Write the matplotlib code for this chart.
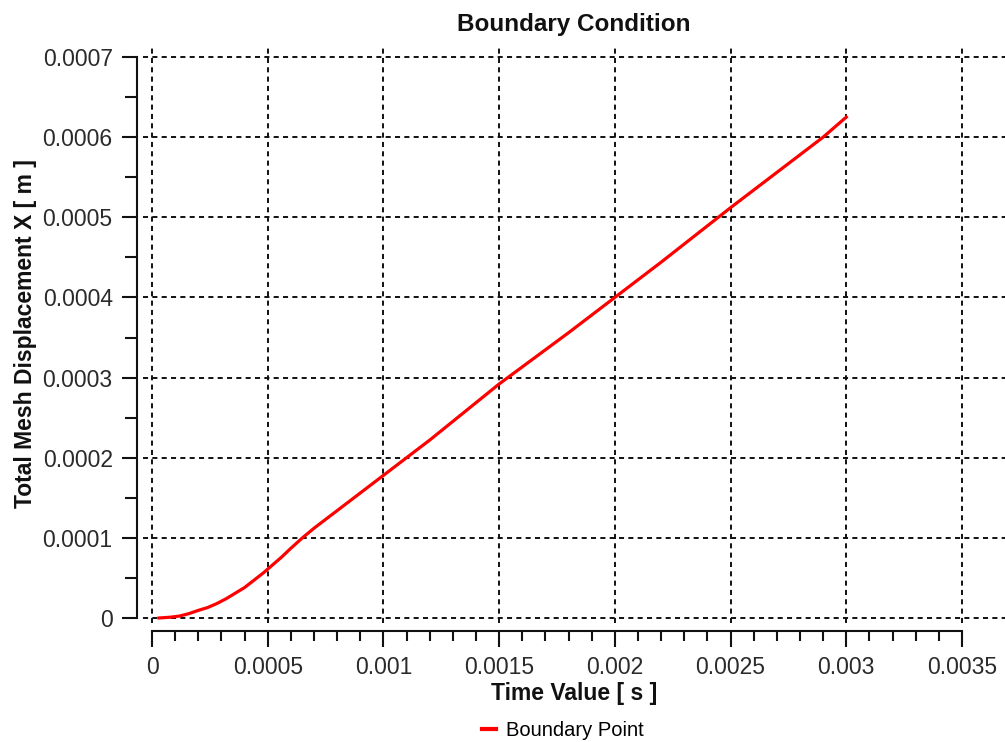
import matplotlib
matplotlib.use("Agg")
import matplotlib.pyplot as plt
from matplotlib.ticker import FixedLocator

plt.rcParams['font.family'] = ['Liberation Sans', 'DejaVu Sans']

# Data
time_s = [0.00003, 0.00008, 0.00012, 0.00016, 0.0002, 0.00024, 0.00028, 0.00032,
          0.00036, 0.0004, 0.00044, 0.00048, 0.00052, 0.00056, 0.0006, 0.00065,
          0.0007, 0.0008, 0.001, 0.0012, 0.0015, 0.0018, 0.002, 0.0022, 0.0025,
          0.0028, 0.0029, 0.003]
disp_m = [0.0, 0.000001, 0.0000025, 0.0000055, 0.0000095, 0.000013, 0.000018, 0.000024,
          0.000031, 0.000038, 0.000047, 0.000056, 0.000066, 0.000076, 0.000087, 0.0001,
          0.000112, 0.000134, 0.000178, 0.000222, 0.000292, 0.000356, 0.0004, 0.000444,
          0.000512, 0.000578, 0.0006, 0.000625]

x_ticks = [0, 0.0005, 0.001, 0.0015, 0.002, 0.0025, 0.003, 0.0035]
x_tick_labels = ["0", "0.0005", "0.001", "0.0015", "0.002", "0.0025", "0.003", "0.0035"]
x_minor_ticks = [i * 0.0001 for i in range(36) if i % 5 != 0]
y_ticks = [0, 0.0001, 0.0002, 0.0003, 0.0004, 0.0005, 0.0006, 0.0007]
y_tick_labels = ["0", "0.0001", "0.0002", "0.0003", "0.0004", "0.0005", "0.0006", "0.0007"]
y_minor_ticks = [0.00005, 0.00015, 0.00025, 0.00035, 0.00045, 0.00055, 0.00065]

title = "Boundary Condition"
xlabel = "Time Value [ s ]"
ylabel = "Total Mesh Displacement X [ m ]"
series_name = "Boundary Point"

W, H = 1005, 742
fig = plt.figure(figsize=(W / 100, H / 100), dpi=100)
ax_l, ax_r, ax_t, ax_b = 143, 1005, 45, 623
ax = fig.add_axes([ax_l / W, 1 - ax_b / H, (ax_r - ax_l) / W, (ax_b - ax_t) / H])

x0_px, x35_px = 152, 962
y0_px, y7_px = 618, 57
xs = 0.0035 / (x35_px - x0_px)
ys = 0.0007 / (y0_px - y7_px)
ax.set_xlim((ax_l - x0_px) * xs, (ax_r - x0_px) * xs)
ax.set_ylim(-(ax_b - y0_px) * ys, (y0_px - ax_t) * ys)

ax.plot(time_s, disp_m, color='#ff0000', lw=2.3, label=series_name, zorder=3)

ax.xaxis.set_major_locator(FixedLocator(x_ticks))
ax.set_xticklabels(x_tick_labels)
ax.xaxis.set_minor_locator(FixedLocator(x_minor_ticks))
ax.yaxis.set_major_locator(FixedLocator(y_ticks))
ax.set_yticklabels(y_tick_labels)
ax.yaxis.set_minor_locator(FixedLocator(y_minor_ticks))

for s in ['top', 'right']:
    ax.spines[s].set_visible(False)
ax.spines['left'].set_position(('outward', 6 * 0.72))
ax.spines['bottom'].set_position(('outward', 8 * 0.72))
ax.spines['left'].set_bounds(0, 0.0007)
ax.spines['bottom'].set_bounds(0, 0.0035)
for s in ['left', 'bottom']:
    ax.spines[s].set_linewidth(1.5)
    ax.spines[s].set_color('#111111')

ax.tick_params(axis='both', which='major', width=1.5, colors='#111111', labelcolor='#2a2a2a',
               labelsize=16.5, pad=6.5)
ax.tick_params(axis='x', which='major', length=11.5)
ax.tick_params(axis='x', which='minor', length=7.5, width=1.5, color='#111111')
ax.tick_params(axis='y', which='major', length=11)
ax.tick_params(axis='y', which='minor', length=8.5, width=1.5, color='#111111')

ax.grid(True, which='major', color='#111111', lw=1.4, linestyle=(0, (2.6, 2.2)))
ax.set_axisbelow(True)

ax.set_title(title, fontsize=17.5, fontweight='bold', pad=10, color='#111111')
ax.set_xlabel(xlabel, fontsize=16.5, fontweight='bold', labelpad=2, color='#111111')
ax.set_ylabel(ylabel, fontsize=16.5, fontweight='bold', labelpad=4, color='#111111')

fig.legend(loc='center', bbox_to_anchor=(563 / W, 1 - 731 / H), frameon=False,
           fontsize=14.5, handlelength=0.7, handletextpad=0.5, borderaxespad=0)
leg = fig.legends[0]
for l in leg.get_lines():
    l.set_linewidth(3)

fig.savefig('out.png', dpi=100)
